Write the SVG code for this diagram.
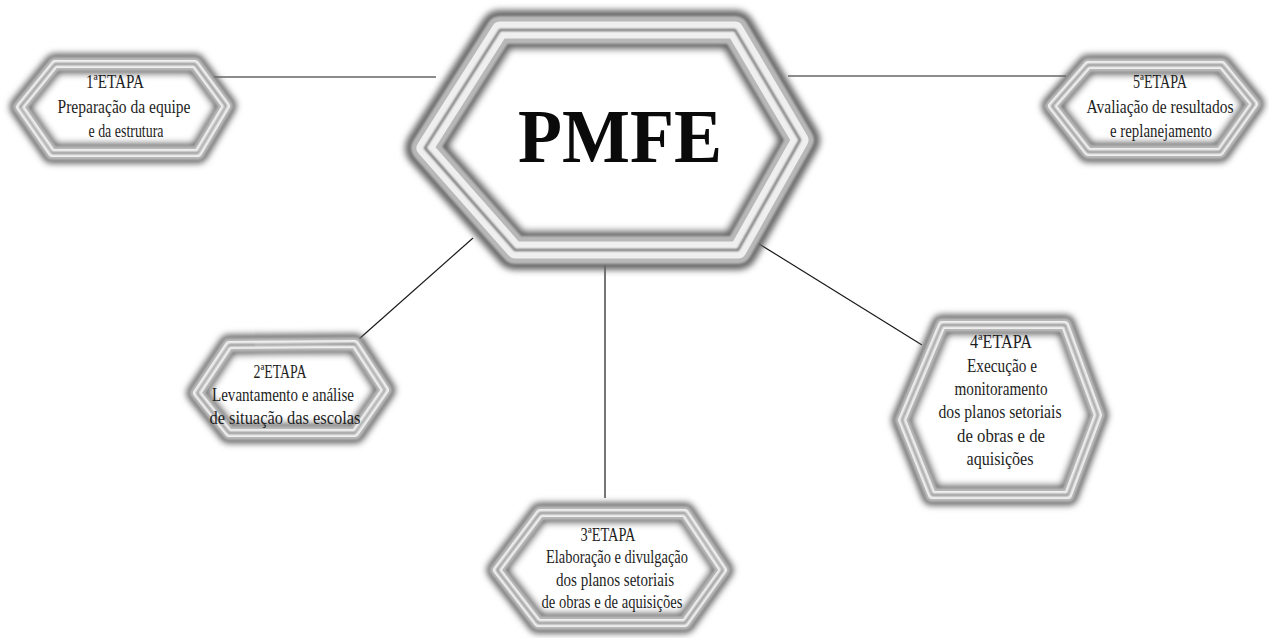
<svg xmlns="http://www.w3.org/2000/svg" width="1269" height="638" viewBox="0 0 1269 638">
<style>
.f0{fill:#fff;stroke:#666;stroke-linejoin:round;filter:url(#bl)}
.f1{fill:none;stroke:#b8b8b8;stroke-linejoin:round;filter:url(#bs)}
.f2{fill:none;stroke:#efefef;stroke-linejoin:round}
.f3{fill:none;stroke:#5e5e5e;stroke-width:1.3;stroke-linejoin:round;filter:url(#bs)}
.s .f0{stroke-width:21}.s .f1{stroke-width:14}.s .f2{stroke-width:8}
.b .f0{stroke-width:40}.b .f1{stroke-width:28}.b .f2{stroke-width:17}.b .f3{stroke-width:2}
.t{font-family:"Liberation Serif","Times New Roman",serif;font-size:19.5px;fill:#1e1e1e;text-anchor:middle}
.big{font-family:"Liberation Serif","Times New Roman",serif;font-size:76px;font-weight:bold;fill:#0a0a0a;text-anchor:middle}
.c{stroke:#1a1a1a;stroke-width:1.2;fill:none}
</style>
<defs>
<filter id="bl" x="-20%" y="-20%" width="140%" height="140%"><feGaussianBlur stdDeviation="3"/></filter>
<filter id="bs" x="-20%" y="-20%" width="140%" height="140%"><feGaussianBlur stdDeviation="0.8"/></filter>
</defs>
<rect width="1269" height="638" fill="#fff"/>
<g id="connectors">
<line class="c" x1="213" y1="77" x2="436" y2="77"/>
<line class="c" x1="788" y1="76" x2="1066" y2="76"/>
<line class="c" x1="473" y1="238" x2="350" y2="347"/>
<line class="c" x1="605" y1="258" x2="605" y2="498"/>
<line class="c" x1="748" y1="237" x2="922" y2="345"/>
</g>
<g id="pmfe" class="b">
<polygon class="f0" points="425,148 500,30 735,30 800,140 738,250 515,250"/>
<polygon class="f1" points="425,148 500,30 735,30 800,140 738,250 515,250"/>
<polygon class="f2" points="425,148 500,30 735,30 800,140 738,250 515,250"/>
<polygon class="f3" points="425,148 500,30 735,30 800,140 738,250 515,250"/>
<text class="big" x="620" y="162" textLength="204" lengthAdjust="spacingAndGlyphs">PMFE</text>
</g>
<g id="etapa1" class="s">
<polygon class="f0" points="20,107 55,64 195,64 226,106 198,153 52,153"/>
<polygon class="f1" points="20,107 55,64 195,64 226,106 198,153 52,153"/>
<polygon class="f2" points="20,107 55,64 195,64 226,106 198,153 52,153"/>
<polygon class="f3" points="20,107 55,64 195,64 226,106 198,153 52,153"/>
<text class="t" x="115" y="88" textLength="58" lengthAdjust="spacingAndGlyphs">1ªETAPA</text>
<text class="t" x="124" y="113" textLength="133" lengthAdjust="spacingAndGlyphs">Preparação da equipe</text>
<text class="t" x="126" y="137" textLength="75" lengthAdjust="spacingAndGlyphs">e da estrutura</text>
</g>
<g id="etapa5" class="s">
<polygon class="f0" points="1052,106 1088,65 1222,65 1254,104 1220,152 1088,152"/>
<polygon class="f1" points="1052,106 1088,65 1222,65 1254,104 1220,152 1088,152"/>
<polygon class="f2" points="1052,106 1088,65 1222,65 1254,104 1220,152 1088,152"/>
<polygon class="f3" points="1052,106 1088,65 1222,65 1254,104 1220,152 1088,152"/>
<text class="t" x="1160" y="88" textLength="54" lengthAdjust="spacingAndGlyphs">5ªETAPA</text>
<text class="t" x="1160" y="113" textLength="147" lengthAdjust="spacingAndGlyphs">Avaliação de resultados</text>
<text class="t" x="1161" y="137" textLength="102" lengthAdjust="spacingAndGlyphs">e replanejamento</text>
</g>
<g id="etapa2" class="s">
<polygon class="f0" points="197,393 229,345 355,344 385,390 355,433 229,433"/>
<polygon class="f1" points="197,393 229,345 355,344 385,390 355,433 229,433"/>
<polygon class="f2" points="197,393 229,345 355,344 385,390 355,433 229,433"/>
<polygon class="f3" points="197,393 229,345 355,344 385,390 355,433 229,433"/>
<text class="t" x="280" y="378" textLength="53" lengthAdjust="spacingAndGlyphs">2ªETAPA</text>
<text class="t" x="283" y="401" textLength="142" lengthAdjust="spacingAndGlyphs">Levantamento e análise</text>
<text class="t" x="285" y="424" textLength="151" lengthAdjust="spacingAndGlyphs">de situação das escolas</text>
</g>
<g id="etapa3" class="s">
<polygon class="f0" points="497,570 540,513 685,513 723,570 685,623 538,623"/>
<polygon class="f1" points="497,570 540,513 685,513 723,570 685,623 538,623"/>
<polygon class="f2" points="497,570 540,513 685,513 723,570 685,623 538,623"/>
<polygon class="f3" points="497,570 540,513 685,513 723,570 685,623 538,623"/>
<text class="t" x="608" y="541" textLength="55" lengthAdjust="spacingAndGlyphs">3ªETAPA</text>
<text class="t" x="617" y="563" textLength="142" lengthAdjust="spacingAndGlyphs">Elaboração e divulgação</text>
<text class="t" x="615" y="586" textLength="118" lengthAdjust="spacingAndGlyphs">dos planos setoriais</text>
<text class="t" x="612" y="608" textLength="141" lengthAdjust="spacingAndGlyphs">de obras e de aquisições</text>
</g>
<g id="etapa4" class="s">
<polygon class="f0" points="902,420 942,325 1065,325 1098,415 1068,495 932,495"/>
<polygon class="f1" points="902,420 942,325 1065,325 1098,415 1068,495 932,495"/>
<polygon class="f2" points="902,420 942,325 1065,325 1098,415 1068,495 932,495"/>
<polygon class="f3" points="902,420 942,325 1065,325 1098,415 1068,495 932,495"/>
<text class="t" x="1001" y="348" textLength="62" lengthAdjust="spacingAndGlyphs">4ªETAPA</text>
<text class="t" x="1002" y="372" textLength="70" lengthAdjust="spacingAndGlyphs">Execução e</text>
<text class="t" x="1001" y="395" textLength="93" lengthAdjust="spacingAndGlyphs">monitoramento</text>
<text class="t" x="1000" y="418" textLength="123" lengthAdjust="spacingAndGlyphs">dos planos setoriais</text>
<text class="t" x="1001" y="442" textLength="88" lengthAdjust="spacingAndGlyphs">de obras e de</text>
<text class="t" x="1000" y="465" textLength="67" lengthAdjust="spacingAndGlyphs">aquisições</text>
</g>
</svg>
